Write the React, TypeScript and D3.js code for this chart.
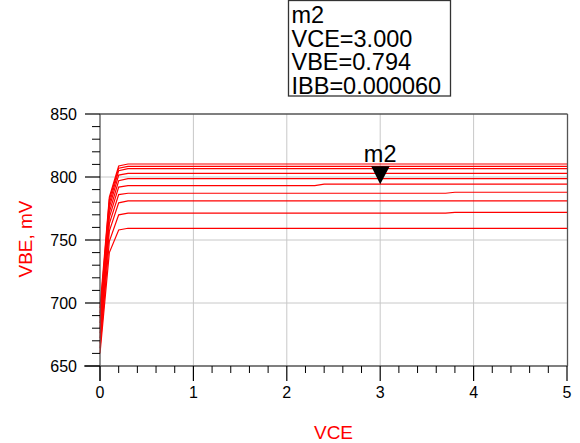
import React from "react";
import * as d3 from "d3";

// VCE sweep points (V)
const vcePts = [0, 0.1, 0.2, 0.3, 2.3, 2.4, 3.7, 3.8, 5.0];
// VBE (mV) for each IBB step, top to bottom
const vbe1 = [696, 784, 808.7, 810.3, 810.3, 810.3, 810.3, 810.3, 810.3];
const vbe2 = [692, 782, 807.0, 808.5, 808.5, 808.5, 808.5, 808.5, 808.5];
const vbe3 = [688, 779, 805.0, 806.6, 806.6, 806.6, 806.6, 806.6, 806.6];
const vbe4 = [684, 776, 801.5, 802.9, 802.9, 802.9, 802.9, 802.9, 802.9];
const vbe5 = [680, 772, 797.0, 798.7, 798.7, 798.7, 798.7, 798.7, 798.7];
const vbe6 = [676, 768, 792.0, 793.1, 793.1, 794.3, 794.3, 794.3, 794.3];
const vbe7 = [672, 763, 786.0, 787.1, 787.1, 787.1, 787.1, 787.9, 787.9];
const vbe8 = [668, 757, 779.5, 781.0, 781.0, 781.0, 781.0, 781.0, 781.0];
const vbe9 = [664, 749, 770.0, 771.4, 771.4, 771.4, 771.4, 772.0, 772.0];
const vbe10 = [660, 740, 758.0, 759.3, 759.3, 759.3, 759.3, 759.3, 759.3];
const curves = [vbe1, vbe2, vbe3, vbe4, vbe5, vbe6, vbe7, vbe8, vbe9, vbe10];

const xTicks = [0, 1, 2, 3, 4, 5];
const yTicks = [650, 700, 750, 800, 850];
const markerLines = ["m2", "VCE=3.000", "VBE=0.794", "IBB=0.000060"];
const markerVce = 3.0;
const markerVbe = 794.3;

export default function App() {
  const x = d3.scaleLinear().domain([0, 5]).range([100, 567]);
  const y = d3.scaleLinear().domain([650, 850]).range([366, 114]);
  const line = d3
    .line<[number, number]>()
    .x((d) => x(d[0]))
    .y((d) => y(d[1]));

  const xMinor = d3.range(0, 5.0001, 0.2).filter((v) => Math.abs(v - Math.round(v)) > 1e-6);
  const yMinor = d3.range(650, 850.001, 10).filter((v) => v % 50 !== 0);
  const font = "'Liberation Sans', Arial, sans-serif";
  const mx = x(markerVce);
  const my = y(markerVbe);

  return (
    <svg
      width={580}
      height={443}
      style={{ position: "absolute", left: 0, top: 0, background: "#fff" }}
      fontFamily={font}
    >
      {/* grid */}
      {xTicks.slice(1, -1).map((t) => (
        <line key={"gx" + t} x1={x(t)} x2={x(t)} y1={114} y2={366} stroke="#c8c8c8" strokeWidth={1} />
      ))}
      {yTicks.slice(1, -1).map((t) => (
        <line key={"gy" + t} x1={100} x2={567} y1={y(t)} y2={y(t)} stroke="#c8c8c8" strokeWidth={1} />
      ))}
      {/* frame top/right */}
      <line x1={100} x2={567.5} y1={114} y2={114} stroke="#555" strokeWidth={1.3} />
      <line x1={567.5} x2={567.5} y1={114} y2={366} stroke="#555" strokeWidth={1.3} />
      {/* curves */}
      {curves.map((c, i) => (
        <path
          key={i}
          d={line(vcePts.map((v, j) => [v, c[j]] as [number, number])) || ""}
          fill="none"
          stroke="#ff0000"
          strokeWidth={1.2}
        />
      ))}
      {/* axes */}
      <line x1={84} x2={567.5} y1={366} y2={366} stroke="#555" strokeWidth={1.3} />
      <line x1={100} x2={100} y1={114} y2={381} stroke="#555" strokeWidth={1.3} />
      {xMinor.map((t) => (
        <line key={"xm" + t} x1={x(t)} x2={x(t)} y1={366} y2={373} stroke="#000" strokeWidth={1} />
      ))}
      {xTicks.map((t) => (
        <line key={"xM" + t} x1={x(t)} x2={x(t)} y1={366} y2={381} stroke="#000" strokeWidth={1.2} />
      ))}
      {yMinor.map((t) => (
        <line key={"ym" + t} x1={92} x2={100} y1={y(t)} y2={y(t)} stroke="#000" strokeWidth={1} />
      ))}
      {yTicks.map((t) => (
        <line key={"yM" + t} x1={85} x2={100} y1={y(t)} y2={y(t)} stroke="#000" strokeWidth={1.2} />
      ))}
      {xTicks.map((t) => (
        <text key={"xl" + t} x={x(t)} y={398} textAnchor="middle" fontSize={16} fill="#000">
          {t}
        </text>
      ))}
      {yTicks.map((t) => (
        <text key={"yl" + t} x={77} y={y(t) + 5.5} textAnchor="end" fontSize={16} fill="#000">
          {t}
        </text>
      ))}
      {/* axis titles */}
      <text x={333.5} y={439} textAnchor="middle" fontSize={19} fill="#ff0000">
        VCE
      </text>
      <text
        transform={`translate(32,239) rotate(-90)`}
        textAnchor="middle"
        fontSize={19}
        fill="#ff0000"
      >
        VBE, mV
      </text>
      {/* marker */}
      <path d={`M${mx - 9},${my - 18} L${mx + 9.5},${my - 18} L${mx},${my} Z`} fill="#000" />
      <text x={mx} y={162} textAnchor="middle" fontSize={23.5} fill="#000">
        m2
      </text>
      {/* marker readout box */}
      <rect x={288.5} y={0.5} width={162} height={95.5} fill="#fff" stroke="#333" strokeWidth={1.3} />
      {markerLines.map((s, i) => (
        <text key={s} x={291.5} y={23 + i * 23.5} fontSize={23.5} fill="#000">
          {s}
        </text>
      ))}
    </svg>
  );
}
